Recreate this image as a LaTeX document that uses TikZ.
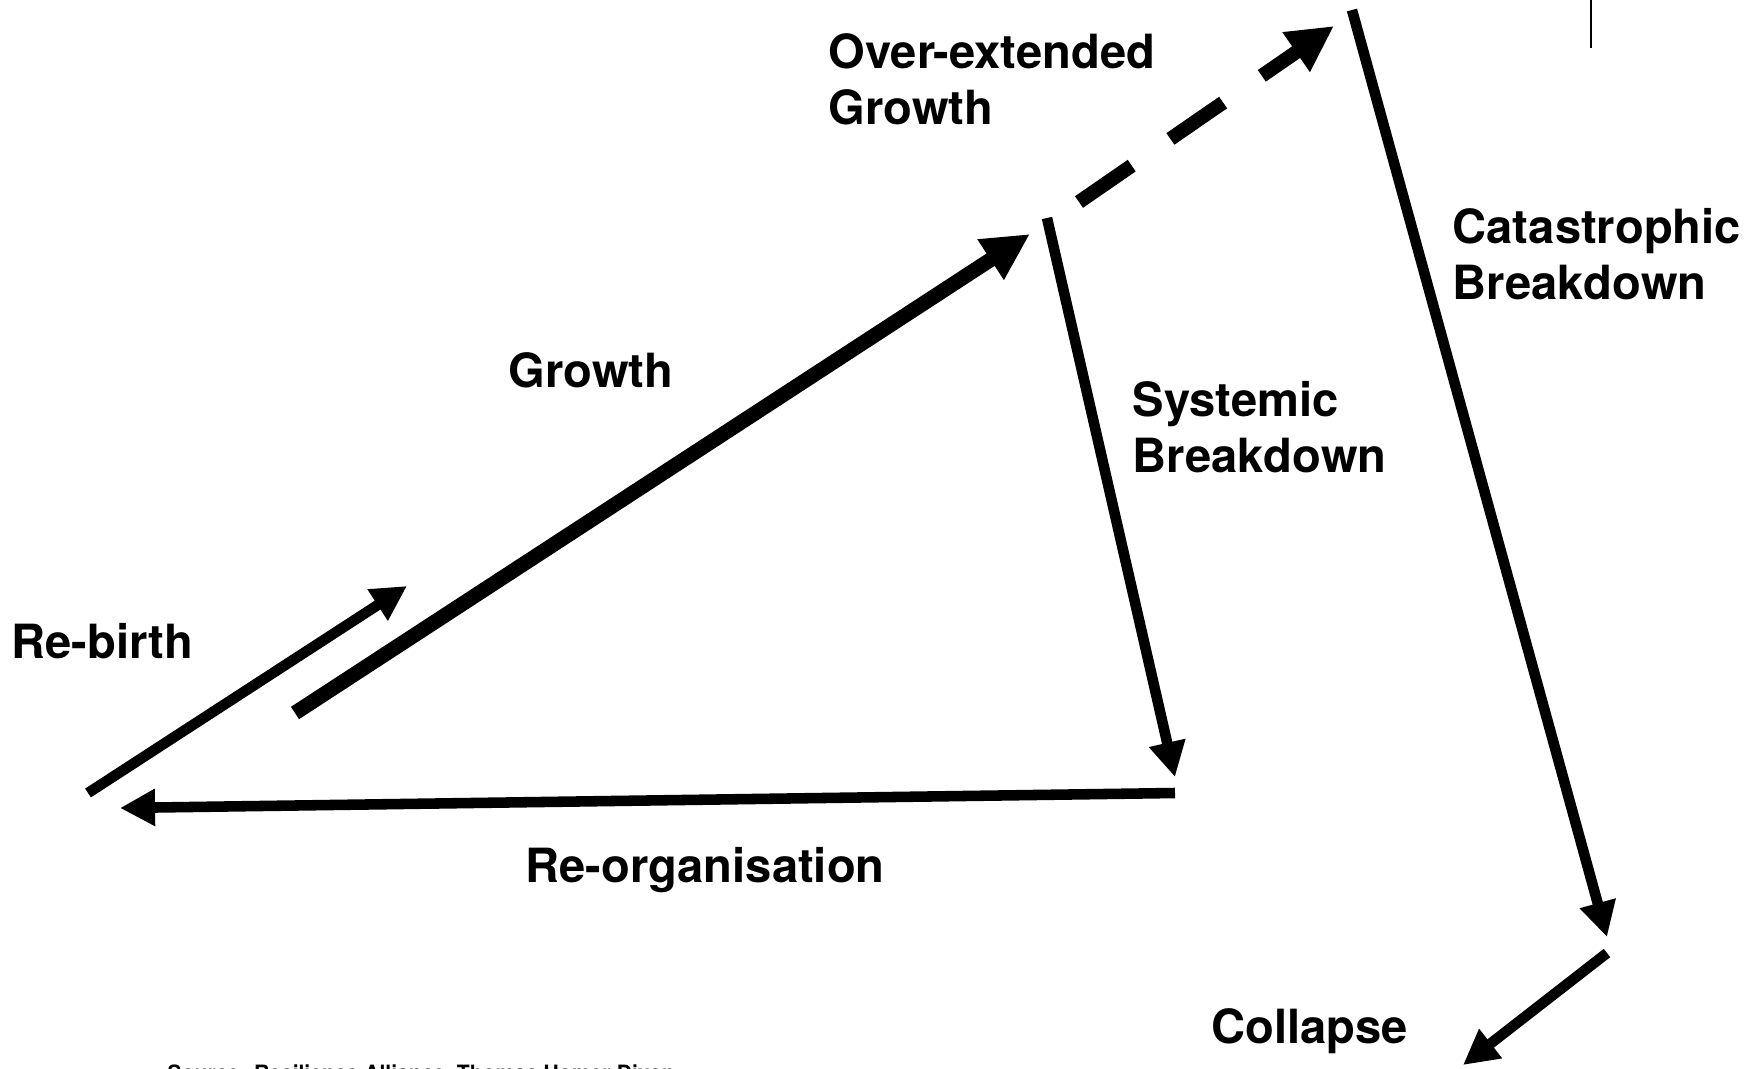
\documentclass[tikz,border=0pt]{standalone}
\usepackage{fontspec}
\setmainfont{TeX Gyre Heros}
\usetikzlibrary{arrows.meta}
\begin{document}
\begin{tikzpicture}[x=0.01cm,y=-0.01cm,
  lbl/.style={anchor=base west,inner sep=0pt,align=left,font=\fontsize{13.4pt}{15.9pt}\selectfont\bfseries},
  thinarr/.style={line width=3pt,-{Triangle[length=0.35cm,width=0.35cm]}},
  thickarr/.style={line width=4.2pt,-{Triangle[length=0.47cm,width=0.45cm]}},
  dasharr/.style={line width=4pt,dash pattern=on 0.64cm off 0.47cm,-{Triangle[length=0.46cm,width=0.45cm]}}]
\useasboundingbox (0,0) rectangle (1762,1069);
% end points
\coordinate (rbS) at (88,793);
\coordinate (rbE) at (407,586);
\coordinate (grS) at (295,713);
\coordinate (grE) at (1030,234);
\coordinate (oeS) at (1079,202);
\coordinate (oeE) at (1334,26);
\coordinate (sbS) at (1047,218);
\coordinate (sbE) at (1175,777);
\coordinate (roS) at (1175,793);
\coordinate (roE) at (120,808);
\coordinate (cbS) at (1352,10);
\coordinate (cbE) at (1607,937);
\coordinate (coS) at (1607,953);
\coordinate (coE) at (1463,1065);
\coordinate (mkS) at (1591,0);
\coordinate (mkE) at (1591,48);
% connectors
\draw[thinarr] (rbS) -- (rbE);
\draw[thickarr] (grS) -- (grE);
\draw[dasharr] (oeS) -- (oeE);
\draw[thinarr] (sbS) -- (sbE);
\draw[thinarr] (roS) -- (roE);
\draw[thinarr] (cbS) -- (cbE);
\draw[thinarr] (coS) -- (coE);
\draw[line width=0.75pt] (mkS) -- (mkE);
% labels (base anchor = baseline of last line)
\node[lbl] (oe) at (828,124) {Over-extended\\Growth};
\node[lbl] (cb) at (1452,299) {Catastrophic\\Breakdown};
\node[lbl] (gr) at (508,387) {Growth};
\node[lbl] (sb) at (1132,472) {Systemic\\Breakdown};
\node[lbl] (rb) at (11,658) {Re-birth};
\node[lbl] (ro) at (525,882) {Re-organisation};
\node[lbl] (co) at (1211,1043) {Collapse};
\node[anchor=base west,inner sep=0pt,font=\fontsize{6pt}{7pt}\selectfont\bfseries] (src) at (167,1080) {Source: Resilience Alliance, Thomas Homer-Dixon};
\end{tikzpicture}
\end{document}
